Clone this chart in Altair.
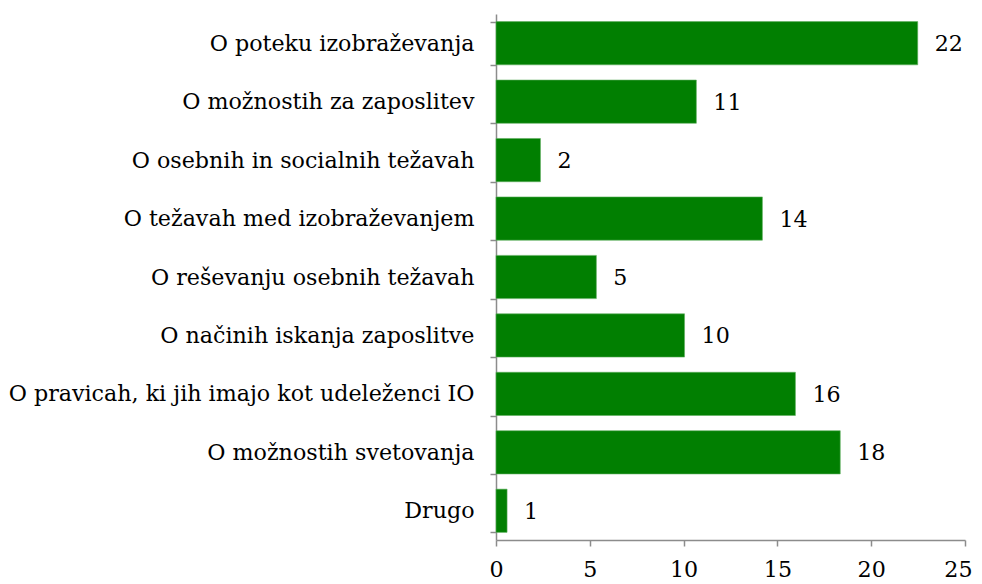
import altair as alt
import pandas as pd

categories = [
    "O poteku izobraževanja",
    "O možnostih za zaposlitev",
    "O osebnih in socialnih težavah",
    "O težavah med izobraževanjem",
    "O reševanju osebnih težavah",
    "O načinih iskanja zaposlitve",
    "O pravicah, ki jih imajo kot udeleženci IO",
    "O možnostih svetovanja",
    "Drugo",
]
bar_values = [22.48, 10.68, 2.37, 14.2, 5.35, 10.05, 15.96, 18.35, 0.59]
label_values = ["22", "11", "2", "14", "5", "10", "16", "18", "1"]

df = pd.DataFrame({"cat": categories, "val": bar_values, "lab": label_values})

FONT = "DejaVu Serif"
FS = 22.2
AX = "#8c8c8c"

y_enc = alt.Y(
    "cat:N",
    sort=categories,
    title=None,
    scale=alt.Scale(paddingInner=0.26, paddingOuter=0.13),
    axis=alt.Axis(
        tickBand="extent",
        tickSize=6,
        labelPadding=16,
        labelFont=FONT,
        labelFontSize=FS,
        labelColor="black",
        labelLimit=600,
        domainColor=AX,
        tickColor=AX,
        domainWidth=1.5,
        tickWidth=1.5,
    ),
)
x_enc = alt.X(
    "val:Q",
    title=None,
    scale=alt.Scale(domain=[0, 25], nice=False),
    axis=alt.Axis(
        values=[0, 5, 10, 15, 20, 25],
        grid=False,
        tickSize=6,
        labelPadding=12,
        labelFont=FONT,
        labelFontSize=FS,
        labelColor="black",
        domainColor=AX,
        tickColor=AX,
        domainWidth=1.5,
        tickWidth=1.5,
        labelFlush=False,
        labelAlign={"condition": {"test": "datum.value == 25", "value": "right"}, "value": "center"},
        labelOffset={"condition": {"test": "datum.value == 25", "value": 7}, "value": 0},
    ),
)

bars = alt.Chart(df).mark_bar(color="#017f01", stroke="#5fae5f", strokeWidth=0.6).encode(
    x=x_enc, y=y_enc
)
texts = alt.Chart(df).mark_text(
    align="left", baseline="middle", dx=17, dy=1, font=FONT, fontSize=FS, color="black"
).encode(x="val:Q", y=alt.Y("cat:N", sort=categories), text="lab:N")

chart = (
    (bars + texts)
    .properties(
        width=469,
        height=526,
        background="white",
        autosize=alt.AutoSizeParams(type="none"),
        padding={"left": 488, "top": 6, "right": 8, "bottom": 42},
    )
    .configure_view(strokeWidth=0, stroke="transparent")
)

chart.save("out.html", embed_options={"renderer": "svg", "actions": False})
